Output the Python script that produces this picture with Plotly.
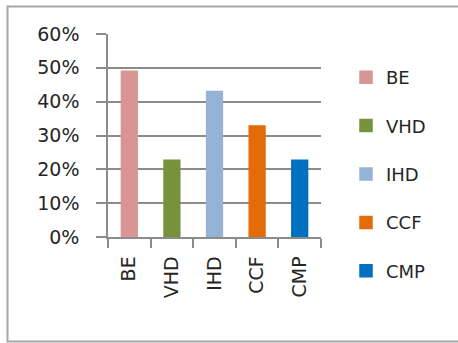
import plotly.graph_objects as go

categories = ["BE", "VHD", "IHD", "CCF", "CMP"]
values = [0.49, 0.227, 0.43, 0.328, 0.227]
colors = ["#D99594", "#76923C", "#95B3D7", "#E36C09", "#0070C0"]
y_ticks = [0, 0.1, 0.2, 0.3, 0.4, 0.5, 0.6]

W, H = 458, 343
ml, mr, mt, mb = 108, 137, 34, 106
pw = W - ml - mr
ph = H - mt - mb

def px_x(px):
    return (px - ml) / pw

def px_y(py):
    return (H - mb - py) / ph

fig = go.Figure()
for i, (c, v, col) in enumerate(zip(categories, values, colors)):
    fig.add_trace(go.Bar(
        x=[c], y=[v], name=c, marker_color=col,
        marker_line=dict(color=col, width=1.5),
        width=0.37, legendgroup=c, showlegend=True,
    ))

axis_col = "#8C8C8C"
font = dict(family="DejaVu Sans", size=19, color="#262626")

fig.update_layout(
    width=W, height=H,
    margin=dict(l=ml, r=mr, t=mt, b=mb, pad=0),
    paper_bgcolor="white", plot_bgcolor="white",
    barmode="overlay",
    font=font,
    showlegend=True,
    legend=dict(
        x=px_x(346), y=px_y(174), xanchor="left", yanchor="middle",
        font=dict(family="DejaVu Sans", size=18, color="#262626"),
        tracegroupgap=22, itemwidth=30, bgcolor="rgba(0,0,0,0)",
        maxheight=330,
    ),
    xaxis=dict(
        type="category", categoryorder="array", categoryarray=categories,
        tickangle=-90, tickson="boundaries", ticks="outside", ticklen=9,
        tickcolor=axis_col, tickwidth=1.5, showline=True, linecolor=axis_col,
        linewidth=1.5, showgrid=False, ticklabelstandoff=10,
        tickfont=font,
    ),
    yaxis=dict(
        range=[0, 0.6], tickvals=y_ticks, tickformat=".0%",
        ticks="outside", ticklen=10, tickcolor=axis_col, tickwidth=1.5,
        showline=True, linecolor=axis_col, linewidth=1.5,
        showgrid=True, gridcolor=axis_col, gridwidth=1.5,
        zeroline=False, ticklabelstandoff=13, tickfont=font,
    ),
    shapes=[dict(
        type="rect", xref="paper", yref="paper",
        x0=px_x(7.5), x1=px_x(470), y0=px_y(341.5), y1=px_y(6.5),
        line=dict(color="#A6A6A6", width=2), fillcolor="rgba(0,0,0,0)",
        layer="below",
    )],
)

fig.write_html("out.html")
